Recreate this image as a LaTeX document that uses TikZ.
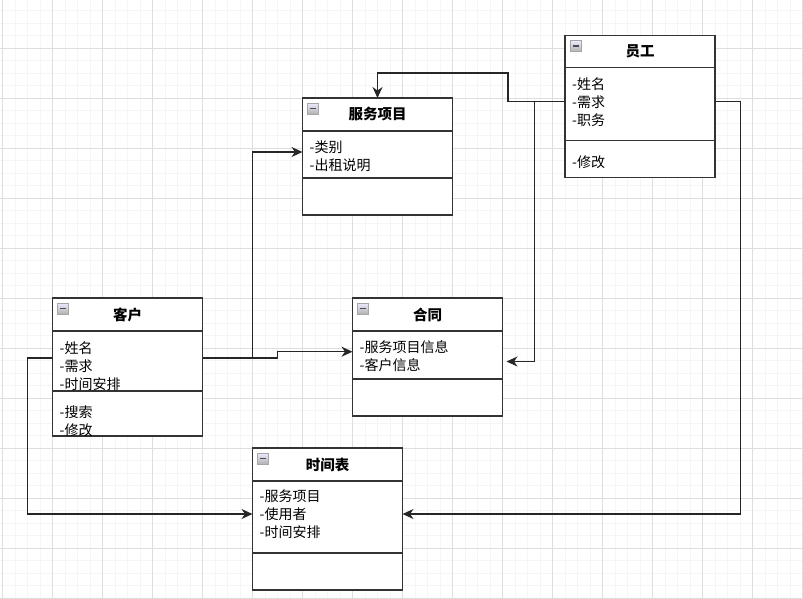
\documentclass[tikz,border=0pt]{standalone}
\usepackage{fontspec}
\setmainfont{Noto Sans CJK SC}
\usetikzlibrary{positioning}
\usetikzlibrary{arrows.meta}

\begin{document}
\begin{tikzpicture}
  [x=1pt,y=-1pt,
  minorgrid/.style={draw=black!4,line width=0.8pt},
  majorgrid/.style={draw=black!13,line width=0.8pt},
  cbox/.style={rectangle,draw=black!80,line width=1.4pt,fill=white,inner sep=0pt,outer sep=0pt,minimum width=150pt,anchor=north west},
  classhead/.style={cbox,minimum height=33pt,font=\fontsize{14.5}{18}\selectfont\bfseries},
  attrtext/.style={anchor=north west,align=left,inner sep=0pt,font=\fontsize{14}{18}\selectfont},
  minus/.style={rectangle,draw=black!35,top color=blue!8!white,bottom color=black!30,inner sep=0pt,minimum width=11pt,minimum height=11pt,text=black!70},
  conn/.style={draw=black!85,line width=1.3pt,-{Stealth[length=11pt,width=10pt,inset=3.5pt]}}]
  \useasboundingbox (0,0) rectangle (803,598);
  \fill[white] (0,0) rectangle (803,598);

  % grid
  \foreach \i in {0,...,64} \draw[minorgrid] ({2.5+12.5*\i},0) -- ({2.5+12.5*\i},598);
  \foreach \i in {0,...,48} \draw[minorgrid] (0,{-2+12.5*\i}) -- (803,{-2+12.5*\i});
  \foreach \i in {0,...,16} \draw[majorgrid] ({2.5+50*\i},0) -- ({2.5+50*\i},598);
  \foreach \i in {0,...,12} \draw[majorgrid] (0,{-2+50*\i}) -- (803,{-2+50*\i});

  % 服务项目
  \node[classhead] (fwh) at (302.5,98) {服务项目};
  \node[cbox,minimum height=47pt] (fwa) at (fwh.south west) {};
  \node[cbox,minimum height=37pt] (fwm) at (fwa.south west) {};
  \node[minus] (fwi) at ([xshift=10.5pt,yshift=-10.5pt]fwh.north west) {\rule{6pt}{1.6pt}};
  \node[attrtext] (fwt) at ([xshift=7pt,yshift=-9.5pt]fwa.north west) {-类别\\-出租说明};

  % 员工
  \node[classhead,minimum height=32pt] (ygh) at (565,35.5) {员工};
  \node[cbox,minimum height=73pt] (yga) at (ygh.south west) {};
  \node[cbox,minimum height=37pt] (ygm) at (yga.south west) {};
  \node[minus] (ygi) at ([xshift=10.5pt,yshift=-10.5pt]ygh.north west) {\rule{6pt}{1.6pt}};
  \node[attrtext] (ygt) at ([xshift=7pt,yshift=-9.5pt]yga.north west) {-姓名\\-需求\\-职务};
  \node[attrtext] (ygs) at ([xshift=7pt,yshift=-15pt]ygm.north west) {-修改};

  % 客户
  \node[classhead] (khh) at (52.5,298) {客户};
  \node[cbox,minimum height=60pt] (kha) at (khh.south west) {};
  \node[cbox,minimum height=45pt] (khm) at (kha.south west) {};
  \node[minus] (khi) at ([xshift=10.5pt,yshift=-10.5pt]khh.north west) {\rule{6pt}{1.6pt}};
  \node[attrtext] (kht) at ([xshift=7pt,yshift=-10pt]kha.north west) {-姓名\\-需求\\-时间安排};
  \node[attrtext] (khs) at ([xshift=7pt,yshift=-15pt]khm.north west) {-搜索\\-修改};

  % 合同
  \node[classhead] (hth) at (352.5,298) {合同};
  \node[cbox,minimum height=48pt] (hta) at (hth.south west) {};
  \node[cbox,minimum height=37pt] (htm) at (hta.south west) {};
  \node[minus] (hti) at ([xshift=10.5pt,yshift=-10.5pt]hth.north west) {\rule{6pt}{1.6pt}};
  \node[attrtext] (htt) at ([xshift=7pt,yshift=-9.5pt]hta.north west) {-服务项目信息\\-客户信息};

  % 时间表
  \node[classhead] (sjh) at (252.5,448) {时间表};
  \node[cbox,minimum height=72pt] (sja) at (sjh.south west) {};
  \node[cbox,minimum height=37pt] (sjm) at (sja.south west) {};
  \node[minus] (sji) at ([xshift=10.5pt,yshift=-10.5pt]sjh.north west) {\rule{6pt}{1.6pt}};
  \node[attrtext] (sjt) at ([xshift=7pt,yshift=-8.5pt]sja.north west) {-服务项目\\-使用者\\-时间安排};

  % ports
  \coordinate (ygl) at ([yshift=2.5pt]yga.west);
  \coordinate (ygr) at ([yshift=2.5pt]yga.east);
  \coordinate (khl) at ([yshift=3pt]kha.west);
  \coordinate (khr) at ([yshift=3pt]kha.east);
  \coordinate (fwl) at ([yshift=2.5pt]fwa.west);
  \coordinate (htl) at ([yshift=3.3pt]hta.west);
  \coordinate (htr) at ([xshift=4pt,yshift=-6.5pt]hta.east);
  \coordinate (sjl) at ([yshift=3pt]sja.west);
  \coordinate (sjr) at ([yshift=3pt]sja.east);

  % connectors
  \draw[conn] (ygl) -| (508,73) -| (fwh.north);
  \draw[conn] (ygl) -| ([xshift=28pt]htr) -- (htr);
  \draw[conn] (ygr) -| ([xshift=338pt]sjr) -- (sjr);
  \draw[conn] (khr) -| ([xshift=-50pt]fwl) -- (fwl);
  \draw[conn] (khr) -- ++(75,0) |- (htl);
  \draw[conn] (khl) -- ++(-25,0) |- (sjl);
\end{tikzpicture}
\end{document}
